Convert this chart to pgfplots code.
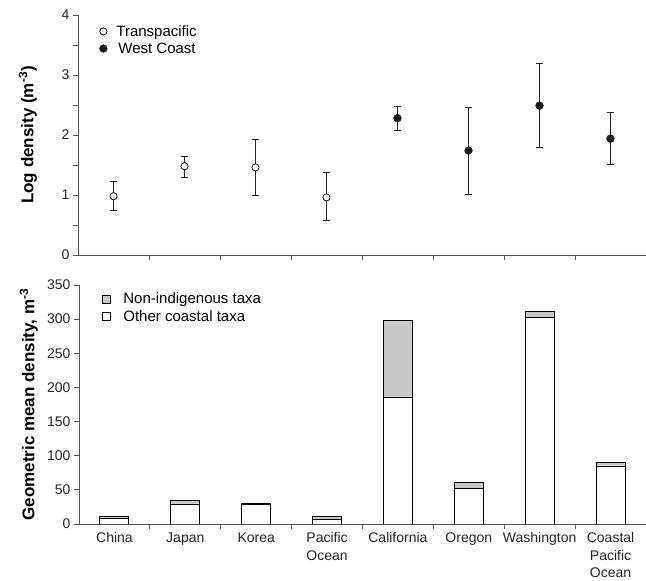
\documentclass[border=0pt]{standalone}
\usepackage{fontspec}
\setmainfont{Liberation Sans}
\usepackage{pgfplots}
\pgfplotsset{compat=1.18}
\definecolor{axisgray}{HTML}{555555}
\definecolor{bargray}{HTML}{C8C9CB}
\begin{document}
\begin{tikzpicture}
\useasboundingbox (-79pt,-57pt) rectangle (567pt,524pt);
\pgfplotsset{
 common/.style={
  scale only axis,
  axis lines*=left,
  axis line style={-, draw=axisgray, line width=0.8pt},
  tick align=outside,
  major tick length=5pt, minor tick length=5pt,
  every tick/.style={draw=axisgray, line width=0.8pt},
  tick label style={font=\fontsize{14}{17.5}\selectfont, text=black!85},
  /pgf/number format/assume math mode=true,
  xmin=-0.5, xmax=7.5,
  xtick={0,...,7},
  major x tick style={draw=none},
  minor xtick={0.5,1.5,...,6.5},
  ylabel style={font=\bfseries\fontsize{17}{20}\selectfont, at={(axis description cs:-0.072,0.5)}, anchor=south, inner sep=0pt},
  legend cell align=left,
  legend style={draw=none, fill=none, font=\fontsize{15}{18}\selectfont, anchor=north west, row sep=1pt},
 }
}
\begin{axis}[common, at={(-1pt,269pt)}, width=568pt, height=240pt,
  ymin=0, ymax=4, ytick={0,...,4}, minor ytick={0.5,1.5,2.5,3.5},
  xticklabels={},
  ylabel={Log density (m\textsuperscript{-3})},
  legend style={at={(axis description cs:0.025,0.975)}},
  legend image code/.code={\path[draw=none,fill=none] (0pt,-3pt) rectangle (19pt,3pt); \draw[#1] plot[only marks] coordinates {(8pt,0pt)};}]
\addplot[draw=none, mark=none, forget plot,
  error bars/.cd, y dir=both, y explicit,
  error bar style={draw=black!85, line width=0.9pt},
  error mark options={rotate=90, mark size=3.5pt, line width=0.9pt, draw=black!85}]
  table[x=x, y=y, y error plus=ep, y error minus=em] {
x y ep em
0 0.98 0.24 0.24
1 1.48 0.16 0.19
2 1.46 0.46 0.47
3 0.96 0.41 0.39
4 2.28 0.19 0.21
5 1.74 0.72 0.73
6 2.49 0.70 0.70
7 1.94 0.43 0.43
};
\addplot[only marks, mark=*, mark size=3.6pt, draw=black, fill=white, line width=0.8pt]
  table[x=x, y=y] {
x y
0 0.98
1 1.48
2 1.46
3 0.96
};
\addlegendentry{Transpacific}
\addplot[only marks, mark=*, mark size=3.9pt, draw=black!90, fill=black!90]
  table[x=x, y=y] {
x y
4 2.28
5 1.74
6 2.49
7 1.94
};
\addlegendentry{\hspace{2pt}West Coast}
\end{axis}
\begin{axis}[common, at={(0pt,0pt)}, width=567pt, height=239pt,
  ymin=0, ymax=350, ytick={0,50,...,350},
  ybar stacked, bar width=29pt,
  xticklabels={China, Japan, Korea, {Pacific\\Ocean}, California, Oregon, Washington, {Coastal\\Pacific\\Ocean}},
  xticklabel style={align=center, anchor=north},
  ylabel={Geometric mean density, m\textsuperscript{-3}},
  reverse legend,
  legend style={at={(axis description cs:0.035,0.985)}},
  legend image code/.code={\draw[#1, line width=0.7pt] (0pt,-4pt) rectangle (8pt,4pt); \path[draw=none,fill=none] (0pt,0pt) -- (19pt,0pt);}]
\addplot[draw=black, fill=white, line width=0.9pt] table[x=x, y=y] {
x y
0 8
1 28
2 28
3 7
4 186
5 52
6 302
7 85
};
\addlegendentry{Other coastal taxa}
\addplot[draw=black, fill=bargray, line width=0.9pt] table[x=x, y=y] {
x y
0 2.5
1 6.5
2 2
3 4
4 112
5 8.5
6 9
7 4.5
};
\addlegendentry{Non-indigenous taxa}
\end{axis}
\end{tikzpicture}
\end{document}
